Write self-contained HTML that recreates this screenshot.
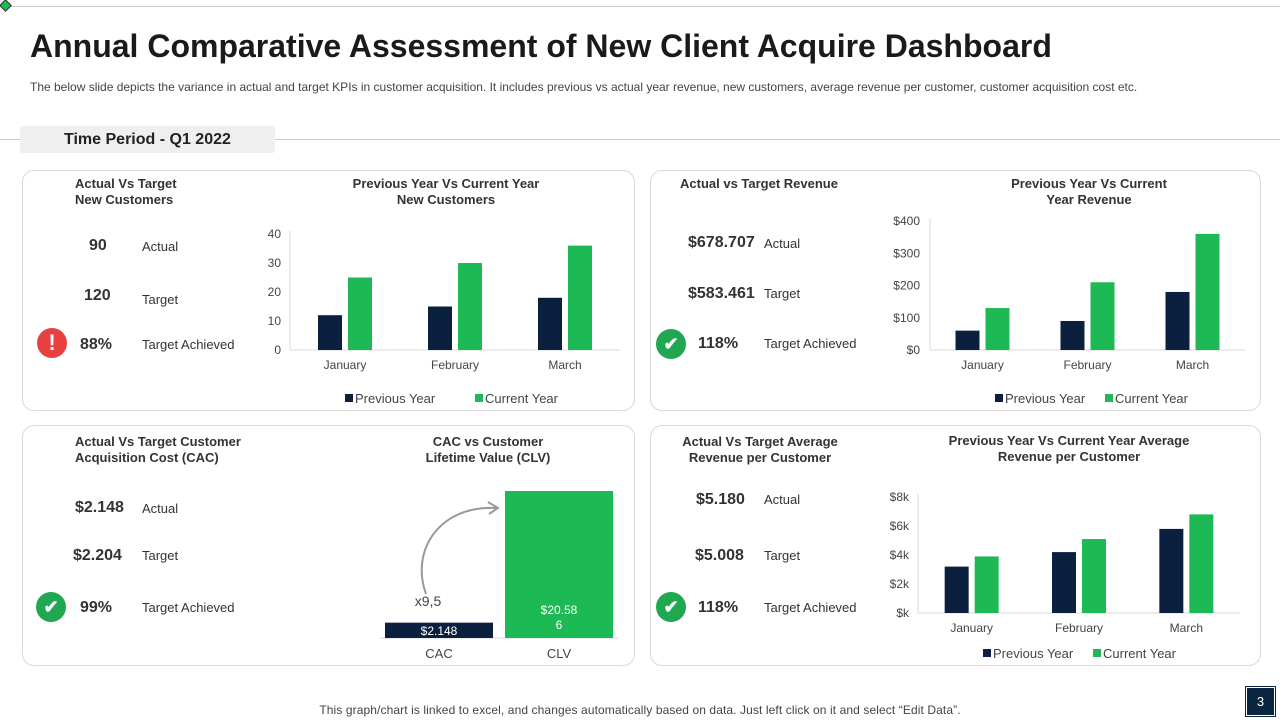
<!DOCTYPE html>
<html><head><meta charset="utf-8"><style>
body{margin:0;width:1280px;height:720px;position:relative;background:#fff;font-family:"Liberation Sans",sans-serif;overflow:hidden;color:#222}
.a{position:absolute;white-space:nowrap}
.card{position:absolute;border:1px solid #d9d9d9;border-radius:12px;box-sizing:border-box}
.h{font-weight:bold;font-size:13px;color:#333;line-height:16px}
.big{font-weight:bold;font-size:16px;color:#333}
.lbl{font-size:13px;color:#333}
svg text{font-family:"Liberation Sans",sans-serif}
</style></head><body>
<div class="a" style="left:10px;top:6px;width:1270px;height:1px;background:#ccc"></div>
<div class="a" style="left:1px;top:1px;width:7px;height:7px;border:1px solid #333;transform:rotate(45deg);background:#1db954"></div>
<div class="a" style="left:30px;top:28px;font-size:32px;font-weight:bold;color:#1a1a1a;letter-spacing:0px">Annual Comparative Assessment of New Client Acquire Dashboard</div>
<div class="a" style="left:30px;top:80px;font-size:12px;color:#444;letter-spacing:0px">The below slide depicts the variance in actual and target KPIs in customer acquisition. It includes previous vs actual year  revenue, new customers, average revenue per customer, customer acquisition cost etc.</div>
<div class="a" style="left:0;top:139px;width:1280px;height:1px;background:#ccc"></div>
<div class="a" style="left:20px;top:126px;width:255px;height:27px;background:#efefef;border-radius:3px;font-size:16px;font-weight:bold;color:#222;line-height:27px;text-indent:44px">Time Period - Q1 2022</div>

<div class="card" style="left:22px;top:170px;width:613px;height:241px"></div>
<div class="card" style="left:650px;top:170px;width:611px;height:241px"></div>
<div class="card" style="left:22px;top:425px;width:613px;height:241px"></div>
<div class="card" style="left:650px;top:425px;width:611px;height:241px"></div>

<div class="a h" style="left:75px;top:176px">Actual Vs Target<br>New Customers</div>
<div class="a big" style="left:89px;top:237px">90</div>
<div class="a lbl" style="left:142px;top:239px">Actual</div>
<div class="a big" style="left:84px;top:287px">120</div>
<div class="a lbl" style="left:142px;top:292px">Target</div>
<div class="a" style="left:37px;top:328px;width:30px;height:30px;border-radius:50%;background:#e84040;color:#fff;font-weight:bold;font-size:22px;text-align:center;line-height:30px">!</div>
<div class="a big" style="left:80px;top:336px">88%</div>
<div class="a lbl" style="left:142px;top:337px">Target  Achieved</div>
<div class="a h" style="left:446px;top:176px;transform:translateX(-50%);text-align:center">Previous Year Vs Current Year<br>New Customers</div>

<div class="a h" style="left:680px;top:176px">Actual vs Target Revenue</div>
<div class="a big" style="left:688px;top:234px">$678.707</div>
<div class="a lbl" style="left:764px;top:236px">Actual</div>
<div class="a big" style="left:688px;top:285px">$583.461</div>
<div class="a lbl" style="left:764px;top:286px">Target</div>
<div class="a" style="left:656px;top:329px;width:30px;height:30px;border-radius:50%;background:#1fa851;color:#fff;font-weight:bold;font-size:18px;text-align:center;line-height:30px">✔</div>
<div class="a big" style="left:698px;top:335px">118%</div>
<div class="a lbl" style="left:764px;top:336px">Target  Achieved</div>
<div class="a h" style="left:1089px;top:176px;transform:translateX(-50%);text-align:center">Previous Year Vs Current<br>Year Revenue</div>

<div class="a h" style="left:75px;top:434px">Actual Vs Target Customer<br>Acquisition Cost (CAC)</div>
<div class="a big" style="left:75px;top:499px">$2.148</div>
<div class="a lbl" style="left:142px;top:501px">Actual</div>
<div class="a big" style="left:73px;top:547px">$2.204</div>
<div class="a lbl" style="left:142px;top:548px">Target</div>
<div class="a" style="left:36px;top:592px;width:30px;height:30px;border-radius:50%;background:#1fa851;color:#fff;font-weight:bold;font-size:18px;text-align:center;line-height:30px">✔</div>
<div class="a big" style="left:80px;top:599px">99%</div>
<div class="a lbl" style="left:142px;top:600px">Target  Achieved</div>
<div class="a h" style="left:488px;top:434px;transform:translateX(-50%);text-align:center">CAC vs Customer<br>Lifetime Value (CLV)</div>

<div class="a h" style="left:760px;top:434px;transform:translateX(-50%);text-align:center">Actual Vs Target Average<br>Revenue per Customer</div>
<div class="a big" style="left:696px;top:491px">$5.180</div>
<div class="a lbl" style="left:764px;top:492px">Actual</div>
<div class="a big" style="left:695px;top:547px">$5.008</div>
<div class="a lbl" style="left:764px;top:548px">Target</div>
<div class="a" style="left:656px;top:592px;width:30px;height:30px;border-radius:50%;background:#1fa851;color:#fff;font-weight:bold;font-size:18px;text-align:center;line-height:30px">✔</div>
<div class="a big" style="left:698px;top:599px">118%</div>
<div class="a lbl" style="left:764px;top:600px">Target  Achieved</div>
<div class="a h" style="left:1069px;top:433px;transform:translateX(-50%);text-align:center">Previous Year Vs Current Year Average<br>Revenue per Customer</div>

<svg id="svg" width="1280" height="720" style="position:absolute;left:0;top:0">
<path d="M426,594 C410,550 440,505 496,508" fill="none" stroke="#999" stroke-width="2"/>
<path d="M488,502 L498,508 L489,514" fill="none" stroke="#999" stroke-width="2"/>
<text x="428" y="606" font-size="14" fill="#444" text-anchor="middle">x9,5</text>
</svg>

<div class="a" style="left:640px;top:703px;transform:translateX(-50%);font-size:12px;color:#444;letter-spacing:0.1px">This graph/chart is linked to excel,  and changes automatically based on data. Just left click on it and select “Edit Data”.</div>
<div class="a" style="left:1246px;top:687px;width:27px;height:27px;background:#0b2540;border:1px solid #fff;outline:1px solid #0b2540;color:#fff;font-size:13px;text-align:center;line-height:27px">3</div>

<script>
const months = ["January","February","March"];
const newCustPrev = [12, 15, 18];
const newCustCur = [25, 30, 36];
const newCustTicks = ["0","10","20","30","40"];
const revPrev = [60, 90, 180];
const revCur = [130, 210, 360];
const revTicks = ["$0","$100","$200","$300","$400"];
const arpcPrev = [3.2, 4.2, 5.8];
const arpcCur = [3.9, 5.1, 6.8];
const arpcTicks = ["$k","$2k","$4k","$6k","$8k"];
const cacCats = ["CAC","CLV"];
const cacVals = [2.148, 20.586];
const cacLabels = ["$2.148","$20.58\n6"];

const NAVY="#0b1f3f", GREEN="#1db954";
const svg=document.getElementById('svg');
const NS="http://www.w3.org/2000/svg";
function mk(tag,attrs,name){const e=document.createElementNS(NS,tag);for(const k in attrs)e.setAttribute(k,attrs[k]);


svg.appendChild(e);return e;}
function txt(x,y,s,size,anchor,name,fill){const t=mk('text',{x:x,y:y,'font-size':size,fill:fill||'#444','text-anchor':anchor},name);t.textContent=s;return t;}

function barChart(id,cfg){
  const {x0,x1,yTop,yBot,max,prev,cur,ticks,labelX,legY,legX}=cfg;
  const y=v=>yBot-(v/max)*(yBot-yTop);
  const band=(x1-x0)/months.length;
  ticks.forEach((t,i)=>txt(labelX,y(max*i/(ticks.length-1))+4,t,12,'end',id+'-y-tick'));
  mk('line',{x1:x0,x2:x0,y1:yTop-3,y2:yBot,stroke:'#d9d9d9'},id+'-y-axis');
  mk('line',{x1:x0,x2:x1,y1:yBot,y2:yBot,stroke:'#d9d9d9'},id+'-x-axis');
  months.forEach((m,i)=>{
    const c=x0+band*(i+0.5);
    mk('rect',{x:c-27,y:y(prev[i]),width:24,height:yBot-y(prev[i]),fill:NAVY},id+'-bar-prev-'+m.toLowerCase());
    mk('rect',{x:c+3,y:y(cur[i]),width:24,height:yBot-y(cur[i]),fill:GREEN},id+'-bar-cur-'+m.toLowerCase());
    txt(c,yBot+19,m,12,'middle',id+'-x-label');
  });
  mk('rect',{x:legX[0],y:legY-9,width:8,height:8,fill:NAVY},id+'-legend-prev-swatch');
  txt(legX[0]+10,legY,"Previous Year",13,'start',id+'-legend-prev');
  mk('rect',{x:legX[1],y:legY-9,width:8,height:8,fill:GREEN},id+'-legend-cur-swatch');
  txt(legX[1]+10,legY,"Current Year",13,'start',id+'-legend-cur');
}
barChart('new-customers',{x0:290,x1:620,yTop:234,yBot:350,max:40,prev:newCustPrev,cur:newCustCur,ticks:newCustTicks,labelX:281,legY:403,legX:[345,475]});
barChart('revenue',{x0:930,x1:1245,yTop:221,yBot:350,max:400,prev:revPrev,cur:revCur,ticks:revTicks,labelX:920,legY:403,legX:[995,1105]});
barChart('arpc',{x0:918,x1:1240,yTop:497,yBot:613,max:8,prev:arpcPrev,cur:arpcCur,ticks:arpcTicks,labelX:909,legY:658,legX:[983,1093]});

(function(){
  const yBot=638, h=147, maxV=cacVals[1];
  const xs=[385,505], w=108, cols=[NAVY,GREEN];
  mk('line',{x1:380,x2:618,y1:yBot,y2:yBot,stroke:'#d9d9d9'},'cac-x-axis');
  cacCats.forEach((c,i)=>{
    const bh=cacVals[i]/maxV*h;
    mk('rect',{x:xs[i],y:yBot-bh,width:w,height:bh,fill:cols[i]},'bar-'+c.toLowerCase());
    txt(xs[i]+w/2,yBot+20,c,13,'middle','cac-x-label');
    const lines=cacLabels[i].split("\n");
    const ly = i===0 ? yBot-3 : yBot-24;
    lines.forEach((l,j)=>txt(xs[i]+w/2,ly+j*15,l,12,'middle','value-label-'+c.toLowerCase(),'#fff'));
  });
})();
</script>
</body></html>
